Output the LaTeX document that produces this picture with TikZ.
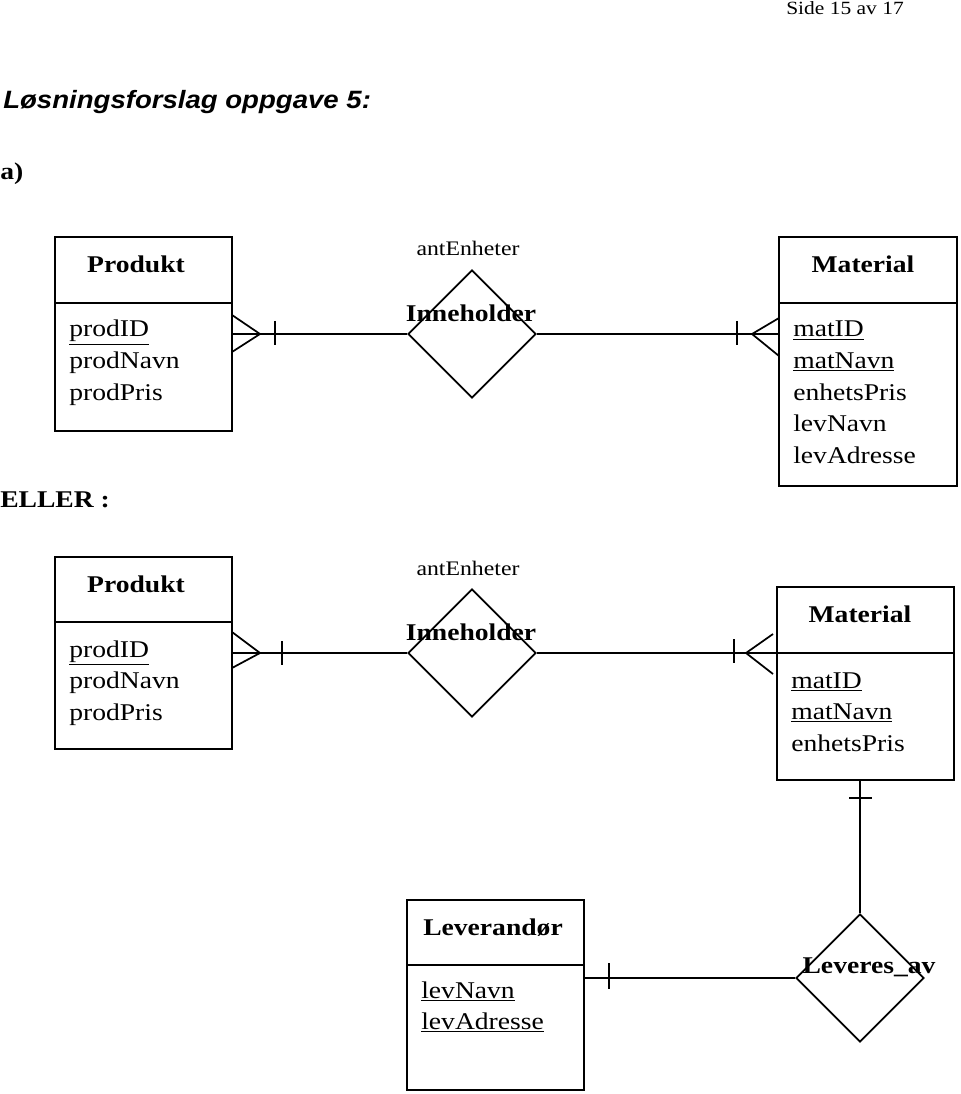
\documentclass[tikz,border=0pt]{standalone}
\usepackage{fontspec}
\setmainfont{Liberation Serif}[FakeStretch=1.15]
\newfontfamily\headfont{Liberation Sans}[FakeStretch=1.1]
\usetikzlibrary{shapes.geometric,fit}

\tikzset{
  line/.style={line width=1.3pt},
  entity/.style={draw, line width=1.3pt, inner sep=0pt},
  relation/.style={draw, diamond, line width=1.3pt, inner sep=0pt,
    minimum width=96pt, minimum height=96pt},
  txt/.style={inner sep=0pt, anchor=base, font=\fontsize{18pt}{22pt}\selectfont},
  title/.style={txt, font=\fontsize{18pt}{22pt}\selectfont\bfseries},
  attr/.style={txt, anchor=base west},
  small/.style={txt, font=\fontsize{15.5pt}{18pt}\selectfont}
}

\begin{document}
\begin{tikzpicture}[x=0.75pt, y=-0.75pt]
  \useasboundingbox (0,0) rectangle (960,1094);

  \node[txt, font=\fontsize{14pt}{16pt}\selectfont] (side) at (845,15) {Side 15 av 17};
  \node[txt, anchor=base west, font=\fontsize{18.8pt}{22pt}\headfont\bfseries\itshape]
    (heading) at (3,109) {Løsningsforslag oppgave 5:};
  \node[title, anchor=base west] (parta) at (0,180) {a)};
  \node[title, anchor=base west] (eller) at (0,507) {ELLER :};

  % first alternative
  \node[entity, fit={(55,237) (232,431)}] (prodA) {};
  \draw[line] (55,303) -- (232,303);
  \node[title] (prodAname) at (136,273) {Produkt};
  \foreach \a [count=\i] in {\underline{prodID},prodNavn,prodPris}
    \node[attr] (prodA\i) at (69,305.5+31.5*\i) {\a};

  \node[relation] (innA) at (472,334) {};
  \node[title] (innAname) at (471,322) {Inneholder};
  \node[small] (antA) at (468,256) {antEnheter};

  \node[entity, fit={(779,237) (957,486)}] (matA) {};
  \draw[line] (779,303) -- (957,303);
  \node[title] (matAname) at (863,273) {Material};
  \foreach \a [count=\i] in {\underline{matID},\underline{matNavn},enhetsPris,levNavn,levAdresse}
    \node[attr] (matA\i) at (793,305.5+31.5*\i) {\a};

  \draw[line] (prodA.east) -- (innA.west);
  \draw[line] (232,315) -- (260,334) -- (232,352);
  \draw[line] (275,321) -- (275,345);
  \draw[line] (innA.east) -- (innA.east -| matA.west);
  \draw[line] (779,318) -- (752,334) -- (779,356);
  \draw[line] (737,321) -- (737,345);

  % second alternative
  \node[entity, fit={(55,557) (232,749)}] (prodB) {};
  \draw[line] (55,622) -- (232,622);
  \node[title] (prodBname) at (136,592) {Produkt};
  \foreach \a [count=\i] in {\underline{prodID},prodNavn,prodPris}
    \node[attr] (prodB\i) at (69,625.5+31.5*\i) {\a};

  \node[relation] (innB) at (472,653) {};
  \node[title] (innBname) at (471,640) {Inneholder};
  \node[small] (antB) at (468,575) {antEnheter};

  \node[entity, fit={(777,587) (954,780)}] (matB) {};
  \draw[line] (777,653) -- (954,653);
  \node[title] (matBname) at (860,622) {Material};
  \foreach \a [count=\i] in {\underline{matID},\underline{matNavn},enhetsPris}
    \node[attr] (matB\i) at (791,656.5+31.5*\i) {\a};

  \draw[line] (prodB.east) -- (innB.west);
  \draw[line] (232,632) -- (260,653) -- (232,668);
  \draw[line] (282,641) -- (282,665);
  \draw[line] (innB.east) -- (innB.east -| matB.west);
  \draw[line] (773,634) -- (746,653) -- (773,674);
  \draw[line] (734,639) -- (734,663);

  \node[entity, fit={(407,900) (584,1090)}] (lev) {};
  \draw[line] (407,965) -- (584,965);
  \node[title] (levname) at (493,935) {Leverandør};
  \foreach \a [count=\i] in {\underline{levNavn},\underline{levAdresse}}
    \node[attr] (lev\i) at (421,966.5+31.5*\i) {\a};

  \node[relation] (levAv) at (860,978) {};
  \node[title] (levAvname) at (869,973) {Leveres\_av};

  \draw[line] (levAv.north) -- (levAv.north |- matB.south);
  \draw[line] (849,798) -- (872,798);
  \draw[line] (levAv.west) -- (levAv.west -| lev.east);
  \draw[line] (609,963) -- (609,989);
\end{tikzpicture}
\end{document}
